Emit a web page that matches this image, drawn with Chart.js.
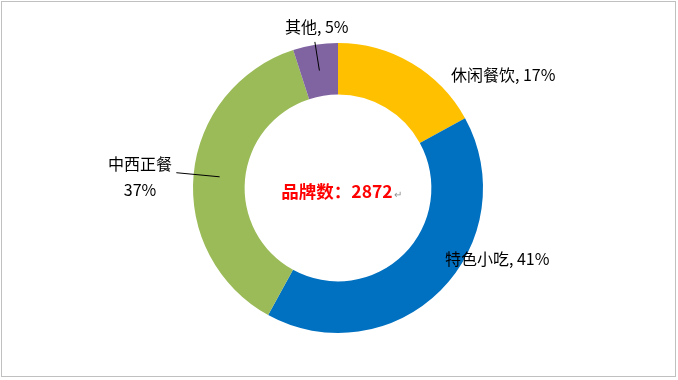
<!DOCTYPE html>
<html>
<head>
<meta charset="utf-8">
<script src="https://cdn.jsdelivr.net/npm/chart.js@4"></script>
<style>
  html, body { margin: 0; padding: 0; background: #fff; }
  #wrap { position: relative; width: 678px; height: 380px; }
  #frame { position: absolute; left: 1px; top: 1px; width: 673px; height: 374px; border: 1px solid #c0c0c0; pointer-events: none; }
  canvas { position: absolute; left: 0; top: 0; }
</style>
</head>
<body>
<div id="wrap">
  <canvas id="c" width="678" height="380"></canvas>
  <div id="frame"></div>
</div>
<script>
// ---- data ----
const categories = ['休闲餐饮', '特色小吃', '中西正餐', '其他'];
const shares = [17, 41, 37, 5];          // percent of brands
const centerTitle = '品牌数：';
const brandCount = 2872;

// ---- styles ----
const colors = ['#FFC000', '#0070C0', '#9BBB59', '#8064A2'];
const FONT = '"Noto Sans CJK SC", "Noto Sans", sans-serif';

// label placement relative to each slice's outer mid-point, in units of the outer radius
// mode: 'inline' => "name, pct" single line; 'stack' => name above pct
const labelPlace = [
  { dx: 0.27, dy: 0.08, align: 'left', mode: 'inline', leader: null },
  { dx: 0.03, dy: -0.22, align: 'left', mode: 'inline', leader: null },
  { dx: -0.37, dy: 0.018, align: 'center', mode: 'stack', leader: [0.82, 1.12] },
  { dx: 0.01, dy: -0.125, align: 'center', mode: 'inline', leader: [0.82, 1.02] }
];

const labelPlugin = {
  id: 'labels',
  afterDraw(chart) {
    const ctx = chart.ctx;
    const meta = chart.getDatasetMeta(0);
    ctx.save();
    meta.data.forEach((arc, i) => {
      const { x, y, startAngle, endAngle, outerRadius } = arc.getProps(['x', 'y', 'startAngle', 'endAngle', 'outerRadius'], true);
      const mid = (startAngle + endAngle) / 2;
      const R = outerRadius;
      const ox = x + Math.cos(mid) * R, oy = y + Math.sin(mid) * R;
      const p = labelPlace[i];
      if (p.leader) {
        ctx.strokeStyle = '#000';
        ctx.lineWidth = 1;
        ctx.beginPath();
        ctx.moveTo(x + Math.cos(mid) * R * p.leader[0], y + Math.sin(mid) * R * p.leader[0]);
        ctx.lineTo(x + Math.cos(mid) * R * p.leader[1], y + Math.sin(mid) * R * p.leader[1]);
        ctx.stroke();
      }
      const lx = ox + p.dx * R, ly = oy + p.dy * R;
      ctx.fillStyle = '#000';
      ctx.font = '16px ' + FONT;
      ctx.textAlign = p.align;
      ctx.textBaseline = 'middle';
      const pct = shares[i] + '%';
      if (p.mode === 'inline') {
        ctx.fillText(categories[i] + ', ' + pct, lx, ly);
      } else {
        ctx.fillText(categories[i], lx, ly - 13);
        ctx.fillText(pct, lx, ly + 13);
      }
    });
    // center text
    const a0 = meta.data[0];
    const cx = a0.x, cy = a0.y;
    ctx.font = 'bold 17.5px ' + FONT;
    const t = centerTitle + brandCount;
    const w = ctx.measureText(t).width;
    ctx.fillStyle = '#FF0000';
    ctx.textAlign = 'left';
    ctx.textBaseline = 'middle';
    const sx = cx - w / 2 - 1;
    ctx.fillText(t, sx, cy + 3);
    ctx.fillStyle = '#909090';
    ctx.font = '10px ' + FONT;
    ctx.fillText('↵', sx + w + 1, cy + 6);
    ctx.restore();
  }
};

new Chart(document.getElementById('c'), {
  type: 'doughnut',
  data: {
    labels: categories,
    datasets: [{
      data: shares,
      backgroundColor: colors,
      borderWidth: 0
    }]
  },
  options: {
    responsive: false,
    animation: false,
    cutout: '64.4%',
    layout: { padding: { left: 100, right: 102, top: 43, bottom: 47 } },
    plugins: {
      legend: { display: false },
      tooltip: { enabled: false }
    }
  },
  plugins: [labelPlugin]
});
</script>
</body>
</html>
